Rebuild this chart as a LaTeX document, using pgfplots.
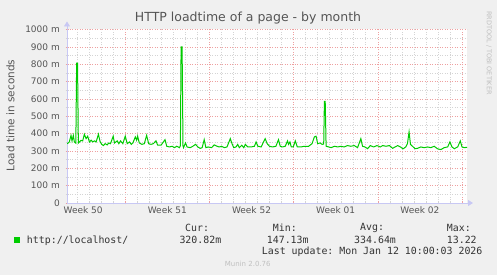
\documentclass[border=0pt]{standalone}
\usepackage{pgfplots}
\usepackage{pgfplotstable}
\pgfplotsset{compat=1.18}
\usepackage{fontspec}
\setmainfont{DejaVu Sans}
\setmonofont{DejaVu Sans Mono}
\usetikzlibrary{arrows.meta}
\definecolor{bg}{HTML}{F0F0F0}
\definecolor{mgrid}{HTML}{EEA0A0}
\definecolor{mingrid}{HTML}{D4D4D4}
\definecolor{axiscol}{HTML}{C8C8F4}
\definecolor{linegreen}{HTML}{00CC00}
\definecolor{txt}{HTML}{555555}
\definecolor{ltxt}{HTML}{333333}
\definecolor{faint}{HTML}{C0C0C0}
\pgfplotstableread{
px   val
66.7 342
68   346
69   352
70.7 390
71.7 358
73   390
74   352
75.5 345
76.3 806
77.2 806
78   346
80.7 361
82.3 358
84   396
85.7 371
87.3 385
89   352
90.7 362
92.3 352
94   358
95.7 352
98   396
99.7 352
101.3 338
103  331
104.7 342
106.7 335
108.3 346
110  342
112.7 385
114  346
116.7 358
118.3 342
120  358
122.3 342
124.7 385
126.7 342
129  352
130.7 338
132.3 346
134.7 381
136  362
137  385
138.7 346
141.3 338
143.7 342
146  390
148  342
150.3 338
152.7 342
155.3 358
157  333
160.3 333
164.3 365
166  327
168.7 323
171.3 327
173.7 319
176  327
178.7 319
179.6 330
180.3 900
181.3 900
182.2 330
182.7 319
184.7 346
186.3 323
189.3 319
192  327
194.7 338
197  323
199.3 315
201.3 319
203.3 365
205  319
207.3 323
210.7 319
213.3 335
216  327
218.3 323
220.7 327
223.3 319
226  323
229.3 371
231  342
232.7 319
235  323
236.7 338
238.3 319
240.7 333
242.7 319
244.3 338
246.7 323
250  323
253.3 327
255  352
256.7 327
260  323
264  371
266  342
268.3 327
271.3 323
274.7 327
277.3 365
279  327
281.3 323
284  327
286.3 358
287.3 338
288.7 352
290  323
292  323
294  358
296  323
299.7 323
303  327
304.7 327
307.3 327
310.7 342
313  381
314.7 385
316.3 342
318.7 346
320.7 338
322.3 340
323  585
323.8 585
324.7 327
327.3 323
329.7 319
333  327
336.3 323
339.3 327
342.7 323
346  331
349.3 327
352.7 331
356  319
359.3 371
361  327
363.3 323
366  313
368.7 331
372  323
375.3 331
378.7 323
381  331
384.3 327
387.7 331
391  315
393.3 323
396  331
398.7 323
401.3 312
404  323
405.7 342
407.3 410
408.7 338
410.7 327
413.3 313
415.7 315
419  323
422.3 319
425.7 323
429  319
432.3 327
435.7 312
439  308
442.3 319
445.7 323
448  352
450  323
452.3 313
455.7 323
458.3 358
460  323
462.3 319
465  321
}\loadtime
\begin{document}
\begin{tikzpicture}[x=1pt,y=1pt]
\fill[bg] (0,0) rectangle (497,275);
\begin{axis}[
  at={(67pt,72pt)}, anchor=south west,
  scale only axis, width=400pt, height=173.5pt,
  xmin=2.157, xmax=35.417, ymin=0, ymax=1000,
  axis background/.style={fill=white},
  axis lines=left,
  axis line style={draw=axiscol, line width=0.8pt},
  x axis line style={-{Triangle[length=5pt,width=6pt]}, shorten >=-6pt},
  y axis line style={-{Triangle[length=5pt,width=6pt]}, shorten >=-8pt},
  /pgf/number format/assume math mode=true,
  xtick={7,14,21,28,35},
  xticklabels={,,,,},
  minor xtick={3,4,5,6,8,9,10,11,12,13,15,16,17,18,19,20,22,23,24,25,26,27,29,30,31,32,33,34},
  extra x ticks={3.5,10.5,17.5,24.5,31.5},
  extra x tick labels={Week 50,Week 51,Week 52,Week 01,Week 02},
  extra x tick style={grid=none, major tick length=0pt},
  ytick={0,100,200,300,400,500,600,700,800,900,1000},
  yticklabels={0,100 m,200 m,300 m,400 m,500 m,600 m,700 m,800 m,900 m,1000 m},
  minor ytick={50,150,250,350,450,550,650,750,850,950},
  grid=both,
  major grid style={mgrid, line width=0.6pt, dash pattern=on 1pt off 1.5pt},
  minor grid style={mingrid, line width=0.6pt, dash pattern=on 1pt off 1.5pt},
  major tick length=3pt, minor tick length=3pt, tick align=center,
  major tick style={mgrid, line width=0.6pt},
  minor tick style={mingrid, line width=0.6pt},
  every tick label/.append style={font=\fontsize{9}{11}\selectfont, text=txt},
  yticklabel style={inner sep=0pt, xshift=-5.5pt},
  xticklabel style={inner sep=0pt, yshift=-3pt},
  legend style={draw=none, fill=none, inner sep=0pt, outer sep=0pt,
    at={(-0.1325,-0.2133)}, anchor=west,
    font=\ttfamily\fontsize{9.9}{12}\selectfont, text=ltxt},
  legend image code/.code={\fill[linegreen, draw=none] (0pt,-3pt) rectangle (6pt,3pt); \path[draw=none, fill=none] (0pt,0pt) -- (11pt,0pt);},
]
\addplot[linegreen, line width=1pt, mark=none]
  table[x expr=(\thisrowno{0}-66.7)/11.975+2.157, y index=1] {\loadtime};
\addlegendentry{http://localhost/}
\end{axis}
\node[font=\fontsize{12.5}{15}\selectfont, text=txt] at (248,257) {HTTP loadtime of a page - by month};
\node[font=\fontsize{10.5}{13}\selectfont, text=txt, rotate=90] at (10.5,159.5) {Load time in seconds};
\node[font=\fontsize{6.5}{8}\selectfont, text=faint, rotate=-90] at (489,222) {RRDTOOL / TOBI OETIKER};
\begin{scope}[every node/.style={font=\ttfamily\fontsize{9.9}{12}\selectfont, text=ltxt, inner sep=0pt, anchor=west}]
\node at (185,47.3) {Cur:};
\node at (272.7,47.3) {Min:};
\node at (360,47.3) {Avg:};
\node at (446.7,47.3) {Max:};
\node at (179.3,35) {320.82m};
\node at (266.7,35) {147.13m};
\node at (354,35) {334.64m};
\node at (446.7,35) {13.22};
\node at (261.7,23.3) {Last update: Mon Jan 12 10:00:03 2026};
\end{scope}
\node[font=\fontsize{7}{8}\selectfont, text=faint] at (247.7,11) {Munin 2.0.76};
\end{tikzpicture}
\end{document}
